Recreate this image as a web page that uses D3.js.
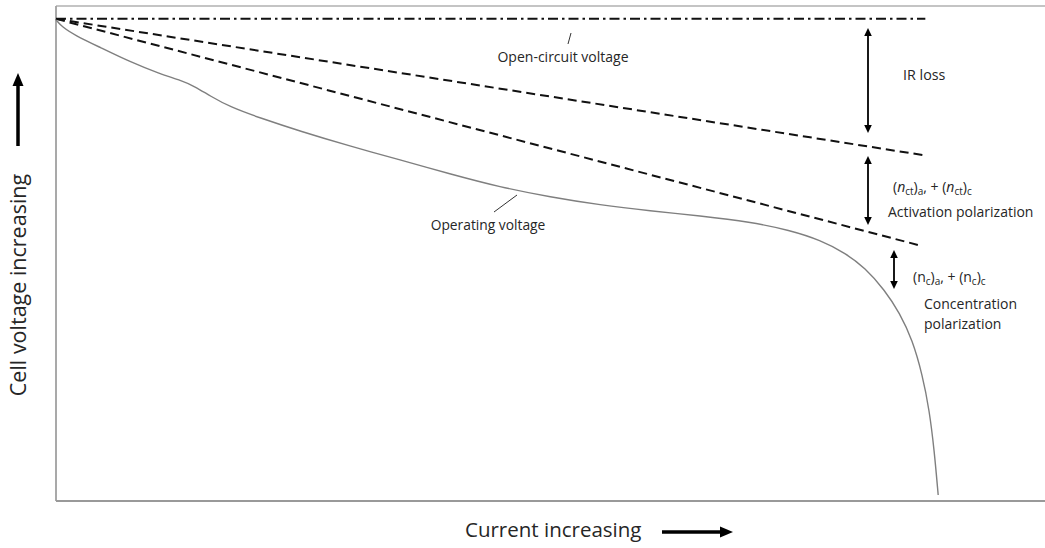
<!DOCTYPE html>
<html>
<head>
<meta charset="utf-8">
<script src="https://cdn.jsdelivr.net/npm/d3@7/dist/d3.min.js"></script>
<style>
  html, body { margin: 0; padding: 0; background: #fff; }
  svg { display: block; }
  text { font-family: "Open Sans", "Noto Sans", sans-serif; fill: #262626; }
</style>
</head>
<body>
<svg id="chart" width="1045" height="548"></svg>
<script>
// Polarization curve of a cell: voltage (relative units) against current (relative units)
const operatingCurrent = [0, 0.6, 1.9, 4.4, 7.5, 10.5, 12.5, 14.0, 15.6, 17.6, 20.6, 24.7, 29.7, 34.8, 39.8, 44.9, 50.0, 55.0, 60.1, 65.1, 70.2, 74.2, 77.3, 79.8, 81.8, 83.8, 85.3, 86.6, 87.6, 88.3, 88.8, 89.2];
const operatingVoltage = [97.2, 95.8, 94.1, 91.7, 88.7, 86.3, 85.1, 83.8, 81.8, 79.6, 77.4, 74.7, 71.7, 68.9, 66.1, 63.4, 61.4, 59.8, 58.6, 57.6, 56.4, 54.7, 52.7, 50.1, 47.1, 42.6, 38.0, 32.5, 25.5, 18.4, 10.3, 1.2];

// Reference lines: open-circuit voltage, after IR loss, after activation polarization
const ocvCurrent = [0, 87.9];
const ocvVoltage = [97.4, 97.4];
const irCurrent = [0, 87.6];
const irVoltage = [97.4, 69.9];
const actCurrent = [0, 87.2];
const actVoltage = [97.4, 51.7];

const svg = d3.select("#chart");
const margin = { left: 56, top: 6, right: 0, bottom: 47 };
const W = 1045, H = 548;

const x = d3.scaleLinear().domain([0, 100]).range([margin.left, W - margin.right]);
const y = d3.scaleLinear().domain([0, 100]).range([H - margin.bottom, margin.top]);

// Frame: top, left and bottom edges of the plot area
svg.append("line").attr("x1", x(0)).attr("x2", x(100)).attr("y1", y(100)).attr("y2", y(100))
  .attr("stroke", "#b0b0b0").attr("stroke-width", 1.5);
svg.append("line").attr("x1", x(0)).attr("x2", x(0)).attr("y1", y(100)).attr("y2", y(0))
  .attr("stroke", "#a0a0a0").attr("stroke-width", 1.8);
svg.append("line").attr("x1", x(0)).attr("x2", x(100)).attr("y1", y(0)).attr("y2", y(0))
  .attr("stroke", "#999").attr("stroke-width", 1.8);

const zipPts = (xs, ys) => xs.map((d, i) => [d, ys[i]]);
const line = d3.line().x(d => x(d[0])).y(d => y(d[1]));

svg.append("path").datum(zipPts(ocvCurrent, ocvVoltage)).attr("d", line)
  .attr("fill", "none").attr("stroke", "#111").attr("stroke-width", 2)
  .attr("stroke-dasharray", "10,4,2.5,4");
svg.append("path").datum(zipPts(irCurrent, irVoltage)).attr("d", line)
  .attr("fill", "none").attr("stroke", "#111").attr("stroke-width", 2)
  .attr("stroke-dasharray", "9,5");
svg.append("path").datum(zipPts(actCurrent, actVoltage)).attr("d", line)
  .attr("fill", "none").attr("stroke", "#111").attr("stroke-width", 2)
  .attr("stroke-dasharray", "9,5");

const curve = d3.line().x(d => x(d[0])).y(d => y(d[1])).curve(d3.curveBasis);
svg.append("path").datum(zipPts(operatingCurrent, operatingVoltage)).attr("d", curve)
  .attr("fill", "none").attr("stroke", "#7f7f7f").attr("stroke-width", 1.4);

// Arrow helpers
function arrowHead(g, tipX, tipY, dirX, dirY, len, half) {
  const px = -dirY, py = dirX;
  const bx = tipX - dirX * len, by = tipY - dirY * len;
  g.append("path")
    .attr("d", `M${tipX},${tipY}L${bx + px * half},${by + py * half}L${bx - px * half},${by - py * half}Z`)
    .attr("fill", "#000");
}
function doubleArrow(xPos, y1, y2) {
  const g = svg.append("g");
  g.append("line").attr("x1", xPos).attr("x2", xPos).attr("y1", y1 + 5).attr("y2", y2 - 5)
    .attr("stroke", "#000").attr("stroke-width", 1.8);
  arrowHead(g, xPos, y1, 0, -1, 8, 3.8);
  arrowHead(g, xPos, y2, 0, 1, 8, 3.8);
}

doubleArrow(868, 28, 133);
doubleArrow(868, 156, 225);
doubleArrow(894, 250, 289);

// Leader lines for the labels
svg.append("line").attr("x1", 571).attr("y1", 33).attr("x2", 568).attr("y2", 44)
  .attr("stroke", "#333").attr("stroke-width", 1);
svg.append("line").attr("x1", 517).attr("y1", 195).attr("x2", 494).attr("y2", 212)
  .attr("stroke", "#333").attr("stroke-width", 1);

// Labels
svg.append("text").attr("x", 563).attr("y", 62).attr("text-anchor", "middle")
  .attr("font-size", 14).text("Open-circuit voltage");
svg.append("text").attr("x", 488).attr("y", 230).attr("text-anchor", "middle")
  .attr("font-size", 13.8).text("Operating voltage");
svg.append("text").attr("x", 903).attr("y", 80).attr("font-size", 14.3).text("IR loss");

function polLabel(xPos, yPos, sub, italic) {
  const t = svg.append("text").attr("x", xPos).attr("y", yPos).attr("font-size", 14);
  const part = (s, opts = {}) => {
    const ts = t.append("tspan").text(s);
    if (opts.italic) ts.attr("font-style", "italic");
    if (opts.sub) ts.attr("font-size", 10).attr("dy", opts.dy);
    else if (opts.dy) ts.attr("dy", opts.dy);
    return ts;
  };
  part("(");
  part("n", { italic });
  part(sub, { sub: true, dy: 3 });
  part(")", { dy: -3 });
  part("a", { sub: true, dy: 3 });
  part(", + (", { dy: -3 });
  part("n", { italic });
  part(sub, { sub: true, dy: 3 });
  part(")", { dy: -3 });
  part("c", { sub: true, dy: 3 });
}
polLabel(893, 192, "ct", true);
svg.append("text").attr("x", 888).attr("y", 217).attr("font-size", 14).text("Activation polarization");
polLabel(913, 282, "c", false);
svg.append("text").attr("x", 924).attr("y", 309).attr("font-size", 14).text("Concentration");
svg.append("text").attr("x", 924).attr("y", 329).attr("font-size", 14).text("polarization");

// Axis titles with direction arrows
svg.append("text").attr("x", 465).attr("y", 537).attr("font-size", 20.5).text("Current increasing");
{
  const g = svg.append("g");
  g.append("line").attr("x1", 662).attr("x2", 722).attr("y1", 532).attr("y2", 532)
    .attr("stroke", "#000").attr("stroke-width", 3.5);
  arrowHead(g, 733, 532, 1, 0, 13, 5.5);
}
svg.append("text").attr("transform", "translate(26,285) rotate(-90)").attr("text-anchor", "middle")
  .attr("font-size", 21.5).text("Cell voltage increasing");
{
  const g = svg.append("g");
  g.append("line").attr("x1", 18).attr("x2", 18).attr("y1", 146).attr("y2", 85)
    .attr("stroke", "#000").attr("stroke-width", 3.5);
  arrowHead(g, 18, 73, 0, -1, 13, 5.5);
}
</script>
</body>
</html>
